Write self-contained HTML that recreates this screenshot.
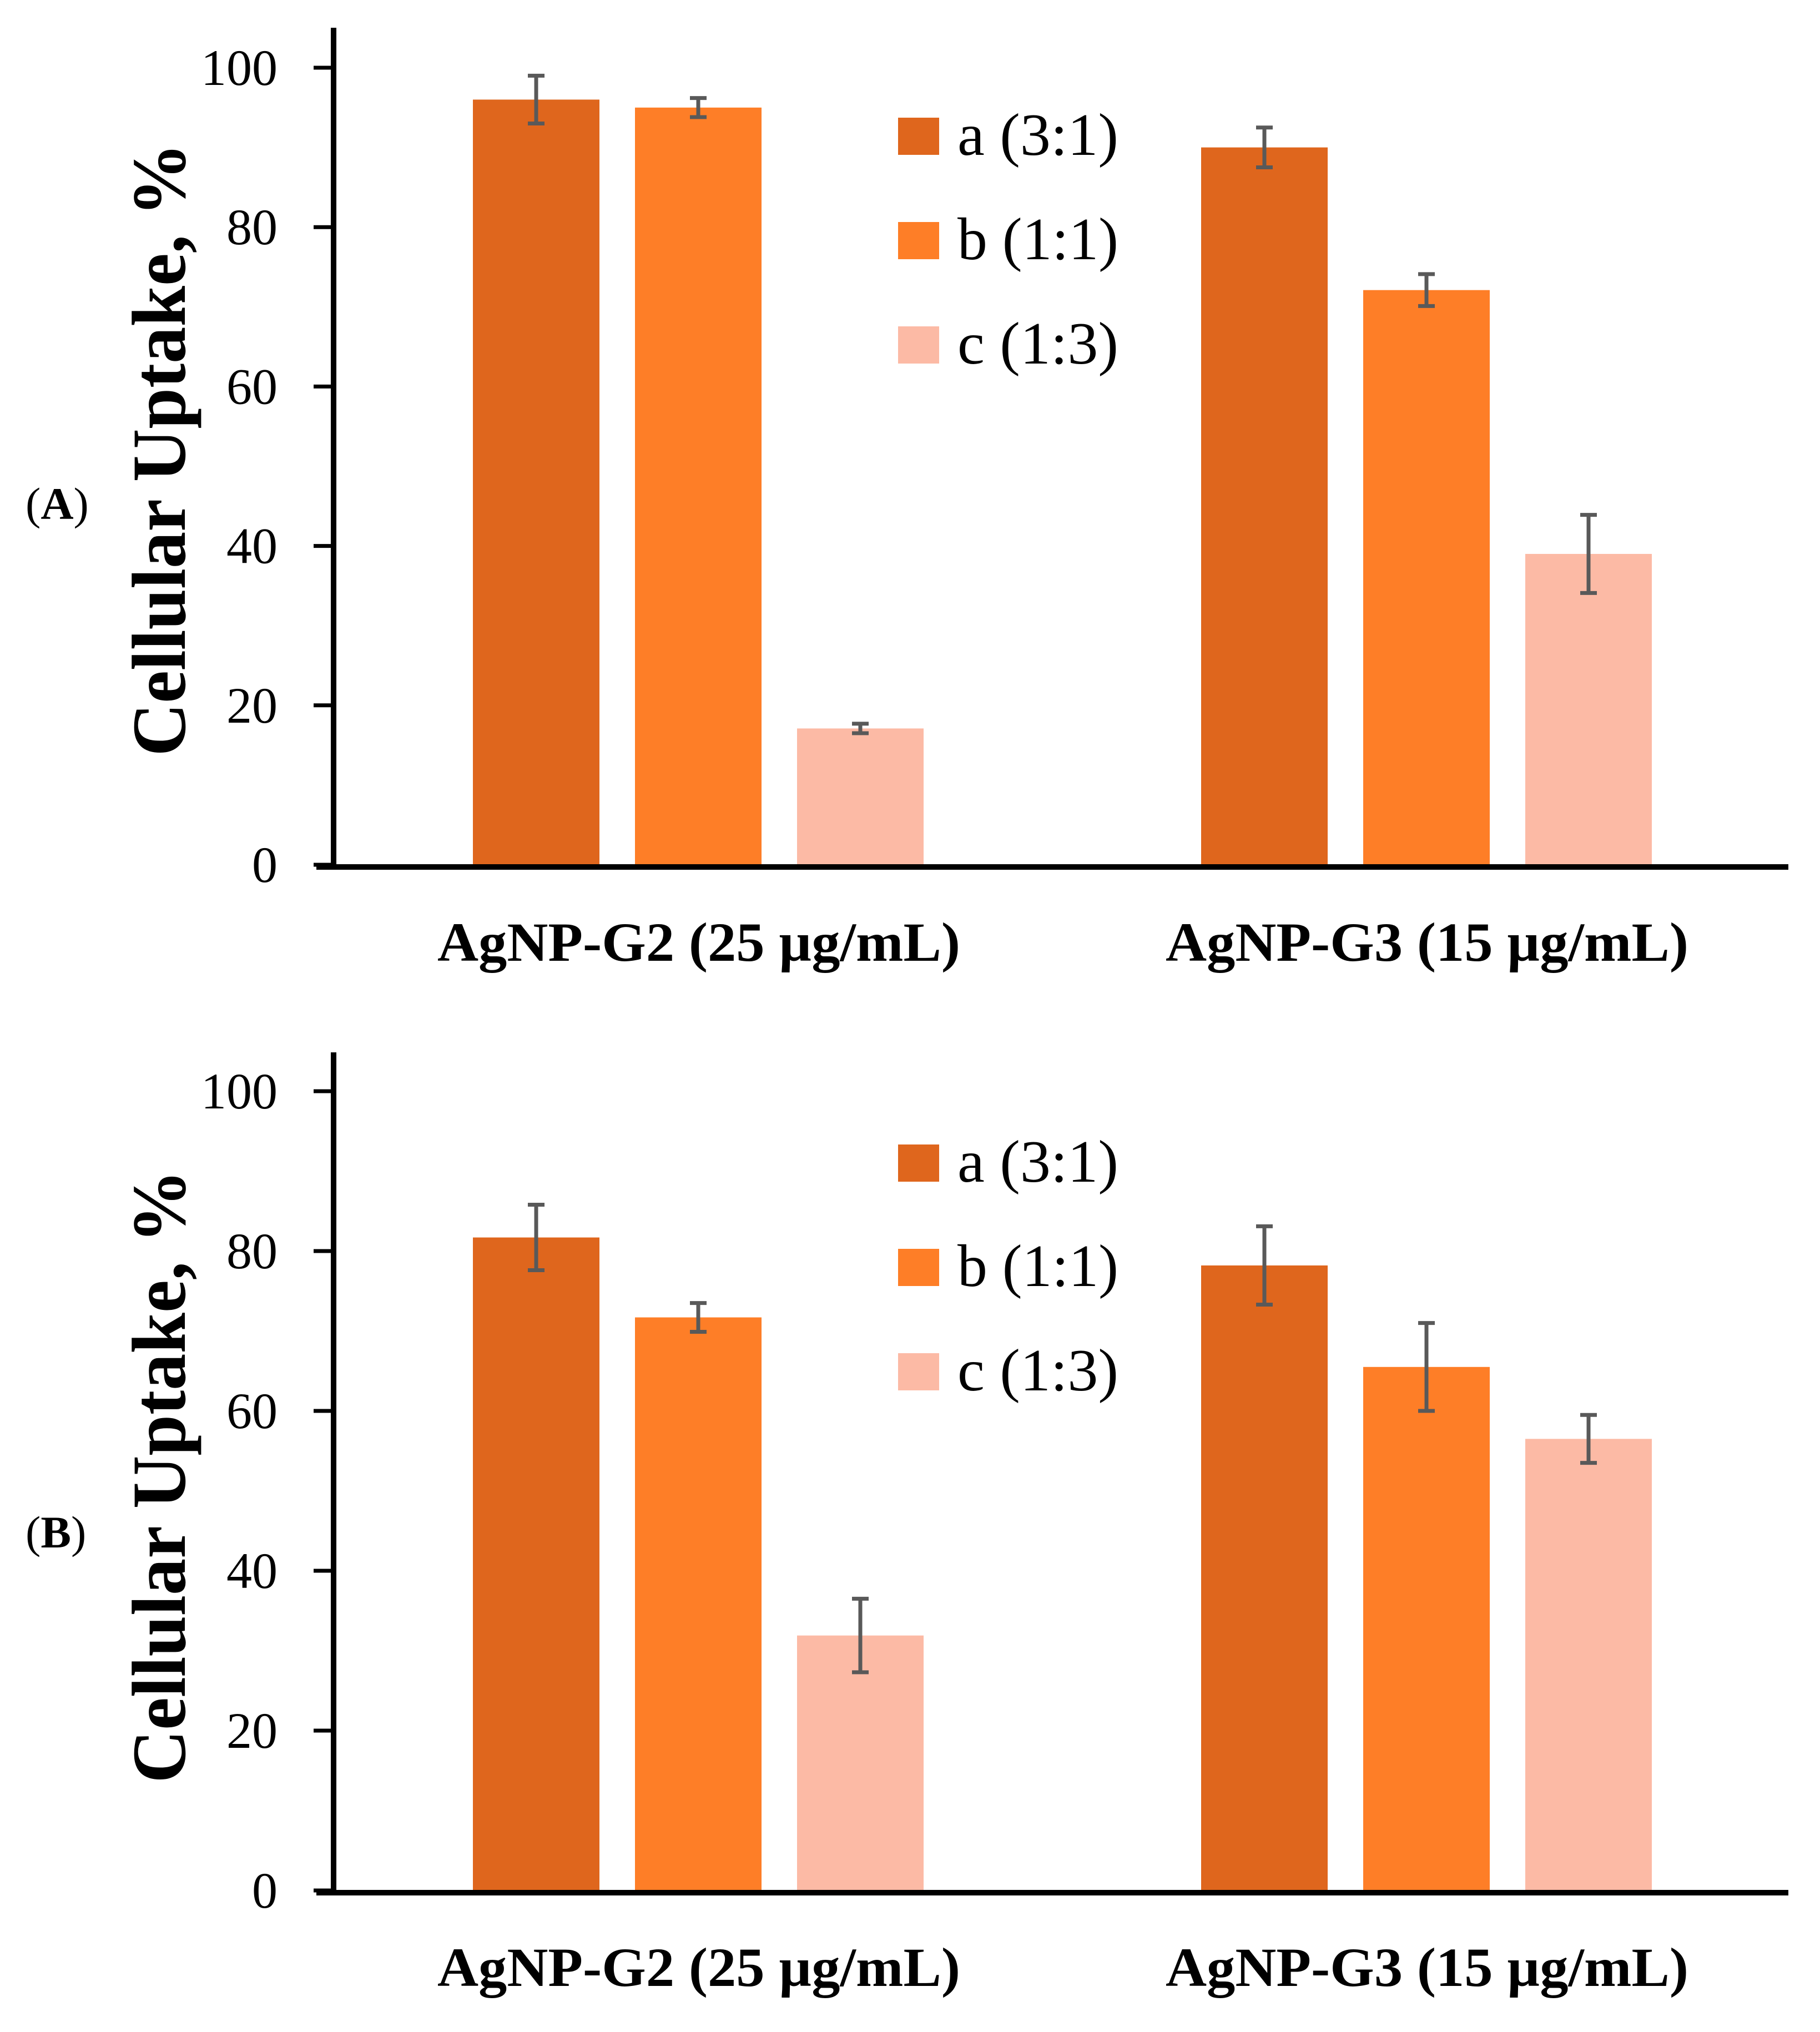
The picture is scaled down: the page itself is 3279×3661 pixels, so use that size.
<!DOCTYPE html>
<html><head><meta charset="utf-8"><style>
html,body{margin:0;padding:0;background:#fff;}
svg{display:block;}
text{font-family:"Liberation Serif",serif;fill:#000;}
</style></head><body>
<svg id="fig" width="3279" height="3661" viewBox="0 0 3279 3661" xmlns="http://www.w3.org/2000/svg"></svg>
<script>
const categories = ["AgNP-G2 (25 µg/mL)", "AgNP-G3 (15 µg/mL)"];
const seriesNames = ["a (3:1)", "b (1:1)", "c (1:3)"];
const yTicks = [0, 20, 40, 60, 80, 100];
const panelAValues = [[96, 90], [95, 72.1], [17.1, 39.0]];
const panelAErrors = [[3, 2.5], [1.2, 2], [0.6, 4.9]];
const panelBValues = [[81.7, 78.2], [71.7, 65.5], [31.9, 56.5]];
const panelBErrors = [[4.1, 4.9], [1.8, 5.5], [4.6, 3]];

const NS = "http://www.w3.org/2000/svg";
const svg = document.getElementById("fig");
const colors = ["#DF661D", "#FE7E27", "#FCBAA5"];
function mk(tag, attrs, parent) {
  const e = document.createElementNS(NS, tag);
  for (const k in attrs) e.setAttribute(k, attrs[k]);
  (parent || svg).appendChild(e);
  return e;
}
function drawPanel(p) {
  const g = mk("g", {});
  
  
  const y = v => p.zero - v * (p.zero - p.top100) / 100;
  const groupStart = [852, 2164];
  const pitch = 292, bw = 228;
  const x = (ci, si) => groupStart[ci] + si * pitch;
  for (let si = 0; si < 3; si++) {
    for (let ci = 0; ci < 2; ci++) {
      const v = p.values[si][ci];
      const r = mk("rect", {x: x(ci, si), y: y(v), width: bw, height: y(0) - y(v), fill: colors[si]}, g);
      
      
    }
  }
  for (let si = 0; si < 3; si++) {
    for (let ci = 0; ci < 2; ci++) {
      const v = p.values[si][ci], e = p.errors[si][ci];
      const cx = x(ci, si) + bw / 2;
      const eg = mk("g", {stroke: "#595959", "stroke-width": 7}, g);
      
      
      mk("line", {x1: cx, x2: cx, y1: y(v + e), y2: y(v - e)}, eg);
      mk("line", {x1: cx - 15, x2: cx + 15, y1: y(v + e), y2: y(v + e)}, eg);
      mk("line", {x1: cx - 15, x2: cx + 15, y1: y(v - e), y2: y(v - e)}, eg);
    }
  }
  const ya = mk("line", {x1: 601, x2: 601, y1: p.axisTop, y2: y(0) + 9, stroke: "#000", "stroke-width": 10}, g);
  
  
  const xa = mk("line", {x1: 570, x2: 3222, y1: y(0) + 4, y2: y(0) + 4, stroke: "#000", "stroke-width": 10}, g);
  
  
  for (const t of yTicks) {
    const tl = mk("line", {x1: 565, x2: 600, y1: y(t), y2: y(t), stroke: "#000", "stroke-width": 7}, g);
    
    
    const tx = mk("text", {x: 500, y: y(t) + 31, "font-size": 92, "text-anchor": "end"}, g);
    tx.textContent = t;
    
    
  }
  const at = mk("text", {x: 0, y: 0, "font-size": 138, "font-weight": "bold", "text-anchor": "middle",
    textLength: 1105, lengthAdjust: "spacingAndGlyphs",
    transform: "translate(333," + p.titleY + ") rotate(-90)"}, g);
  at.textContent = "Cellular Uptake, %";
  
  
  const cx0 = [788, 2100];
  categories.forEach((c, i) => {
    const t = mk("text", {x: cx0[i], y: p.catY, "font-size": 100, "font-weight": "bold",
      textLength: 942, lengthAdjust: "spacingAndGlyphs"}, g);
    t.textContent = c;
    
    
  });
  seriesNames.forEach((s, i) => {
    const base = p.legendY + i * 188;
    const lg = mk("g", {}, g);
    
    
    mk("rect", {x: 1618, y: base - 67, width: 74, height: 67, fill: colors[i]}, lg);
    const t = mk("text", {x: 1725, y: base, "font-size": 108, textLength: 290, lengthAdjust: "spacingAndGlyphs"}, lg);
    t.textContent = s;
  });
  const pl = mk("text", {x: 46, y: p.labelY, "font-size": 82}, g);
  
  
  const t1 = mk("tspan", {}, pl); t1.textContent = "(";
  const t2 = mk("tspan", {"font-weight": "bold"}, pl); t2.textContent = p.key.toUpperCase();
  const t3 = mk("tspan", {}, pl); t3.textContent = ")";
}
drawPanel({key: "a", zero: 1558, top100: 122, axisTop: 50, values: panelAValues, errors: panelAErrors,
  titleY: 810, catY: 1731, legendY: 279, labelY: 935});
drawPanel({key: "b", zero: 3406, top100: 1966, axisTop: 1896, values: panelBValues, errors: panelBErrors,
  titleY: 2660, catY: 3578, legendY: 2129, labelY: 2788});
</script>
</body></html>
